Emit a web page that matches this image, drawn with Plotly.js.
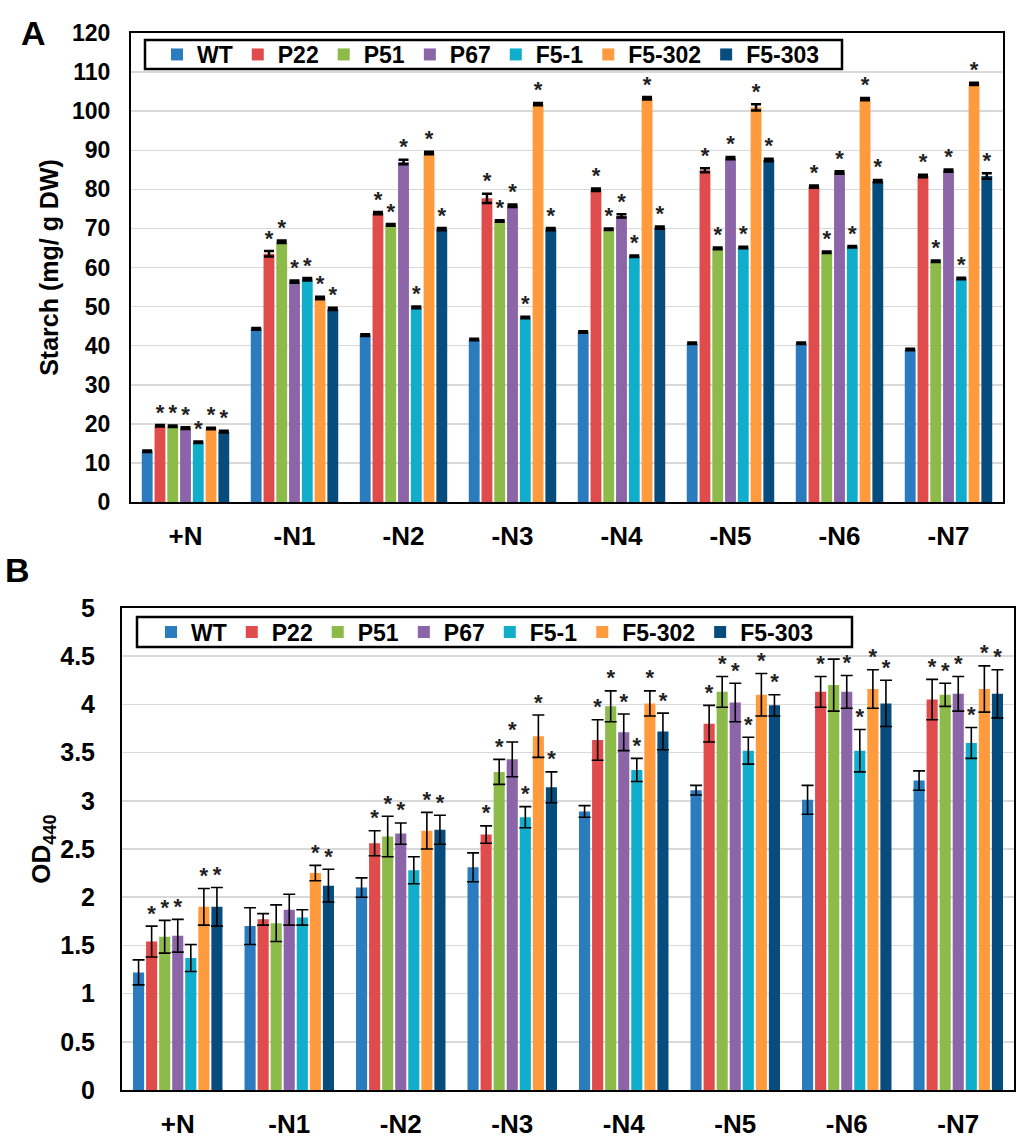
<!DOCTYPE html>
<html>
<head>
<meta charset="utf-8">
<script src="https://cdn.plot.ly/plotly-3.0.1.min.js"></script>
<style>html,body{margin:0;padding:0;background:#fff;}#chart{width:1024px;height:1146px;}</style>
</head>
<body>
<div id="chart"></div>
<script>
// ---- data ----
var categories = ['+N', '-N1', '-N2', '-N3', '-N4', '-N5', '-N6', '-N7'];
var seriesNames = ['WT', 'P22', 'P51', 'P67', 'F5-1', 'F5-302', 'F5-303'];
var seriesColors = ['#2B7BBF', '#E04B4B', '#8CBB4A', '#8C64A8', '#10AECB', '#FF9A3D', '#064C7C'];

// Panel A: starch (mg/ g DW)
var starchWT    = [13.0, 44.3, 42.7, 41.6, 43.5, 40.6, 40.6, 39.0];
var starchP22   = [19.5, 63.5, 73.9, 77.7, 79.9, 84.9, 80.7, 83.4];
var starchP51   = [19.4, 66.6, 70.9, 71.9, 69.8, 64.9, 63.9, 61.6];
var starchP67   = [18.9, 56.4, 87.0, 75.8, 73.2, 88.0, 84.3, 84.8];
var starchF51   = [15.3, 57.0, 49.8, 47.2, 62.9, 65.1, 65.3, 57.2];
var starchF5302 = [18.8, 52.2, 89.3, 101.8, 103.3, 101.0, 103.1, 107.0];
var starchF5303 = [18.0, 49.4, 69.8, 69.8, 70.2, 87.5, 82.1, 83.4];

var starchErrWT    = [0.2, 0.2, 0.2, 0.2, 0.2, 0.2, 0.2, 0.2];
var starchErrP22   = [0.2, 0.7, 0.3, 1.2, 0.3, 0.5, 0.3, 0.3];
var starchErrP51   = [0.2, 0.3, 0.2, 0.2, 0.2, 0.2, 0.2, 0.2];
var starchErrP67   = [0.2, 0.3, 0.6, 0.3, 0.4, 0.3, 0.3, 0.3];
var starchErrF51   = [0.2, 0.3, 0.2, 0.2, 0.2, 0.2, 0.2, 0.2];
var starchErrF5302 = [0.2, 0.3, 0.3, 0.3, 0.3, 0.8, 0.3, 0.3];
var starchErrF5303 = [0.2, 0.3, 0.3, 0.3, 0.3, 0.3, 0.3, 0.7];

var starchSigWT    = [0, 0, 0, 0, 0, 0, 0, 0];
var starchSigP22   = [1, 1, 1, 1, 1, 1, 1, 1];
var starchSigP51   = [1, 1, 1, 1, 1, 1, 1, 1];
var starchSigP67   = [1, 1, 1, 1, 1, 1, 1, 1];
var starchSigF51   = [1, 1, 1, 1, 1, 1, 1, 1];
var starchSigF5302 = [1, 1, 1, 1, 1, 1, 1, 1];
var starchSigF5303 = [1, 1, 1, 1, 1, 1, 1, 1];

// Panel B: OD440
var odWT    = [1.22, 1.70, 2.10, 2.31, 2.89, 3.11, 3.01, 3.21];
var odP22   = [1.54, 1.77, 2.56, 2.65, 3.63, 3.80, 4.13, 4.05];
var odP51   = [1.59, 1.73, 2.63, 3.30, 3.98, 4.13, 4.20, 4.10];
var odP67   = [1.60, 1.87, 2.66, 3.43, 3.71, 4.02, 4.13, 4.11];
var odF51   = [1.37, 1.79, 2.28, 2.83, 3.32, 3.52, 3.52, 3.60];
var odF5302 = [1.90, 2.25, 2.69, 3.67, 4.01, 4.10, 4.16, 4.16];
var odF5303 = [1.90, 2.12, 2.70, 3.14, 3.72, 3.99, 4.01, 4.11];

var odErrWT    = [0.13, 0.19, 0.10, 0.15, 0.06, 0.05, 0.15, 0.10];
var odErrP22   = [0.16, 0.06, 0.13, 0.09, 0.21, 0.19, 0.16, 0.21];
var odErrP51   = [0.17, 0.19, 0.21, 0.13, 0.16, 0.16, 0.27, 0.12];
var odErrP67   = [0.17, 0.16, 0.11, 0.18, 0.19, 0.20, 0.17, 0.18];
var odErrF51   = [0.14, 0.08, 0.14, 0.11, 0.12, 0.14, 0.22, 0.16];
var odErrF5302 = [0.19, 0.08, 0.19, 0.22, 0.13, 0.22, 0.20, 0.24];
var odErrF5303 = [0.20, 0.17, 0.15, 0.16, 0.19, 0.11, 0.24, 0.25];

var odSigWT    = [0, 0, 0, 0, 0, 0, 0, 0];
var odSigP22   = [1, 0, 1, 1, 1, 1, 1, 1];
var odSigP51   = [1, 0, 1, 1, 1, 1, 1, 1];
var odSigP67   = [1, 0, 1, 1, 1, 1, 1, 1];
var odSigF51   = [0, 0, 0, 1, 1, 1, 1, 1];
var odSigF5302 = [1, 1, 1, 1, 1, 1, 1, 1];
var odSigF5303 = [1, 1, 1, 1, 1, 1, 1, 1];

// ---- assemble ----
var starchVals = [starchWT, starchP22, starchP51, starchP67, starchF51, starchF5302, starchF5303];
var starchErrs = [starchErrWT, starchErrP22, starchErrP51, starchErrP67, starchErrF51, starchErrF5302, starchErrF5303];
var starchSigs = [starchSigWT, starchSigP22, starchSigP51, starchSigP67, starchSigF51, starchSigF5302, starchSigF5303];
var odVals = [odWT, odP22, odP51, odP67, odF51, odF5302, odF5303];
var odErrs = [odErrWT, odErrP22, odErrP51, odErrP67, odErrF51, odErrF5302, odErrF5303];
var odSigs = [odSigWT, odSigP22, odSigP51, odSigP67, odSigF51, odSigF5302, odSigF5303];

var FONT = 'Liberation Sans, Arial, sans-serif';
var traces = [];

function addPanel(vals, errs, sigs, xa, ya, legendId, errThick, errWidth) {
  seriesNames.forEach(function (name, i) {
    traces.push({
      type: 'bar', name: name, x: categories, y: vals[i],
      xaxis: xa, yaxis: ya, legend: legendId,
      marker: {color: seriesColors[i], line: {width: 0}},
      error_y: {type: 'data', array: errs[i], visible: true, color: '#000', thickness: errThick, width: errWidth},
      hoverinfo: 'x+y+name'
    });
  });
  seriesNames.forEach(function (name, i) {
    var ys = [], ts = [], xs = [];
    categories.forEach(function (c, k) {
      xs.push(c);
      ys.push(sigs[i][k] ? vals[i][k] + errs[i][k] : null);
      ts.push(sigs[i][k] ? '*' : '');
    });
    traces.push({
      type: 'scatter', mode: 'text', x: xs, y: ys, text: ts,
      textposition: 'top center', cliponaxis: false,
      textfont: {family: FONT, size: 22, color: '#222', weight: 'bold'},
      xaxis: xa, yaxis: ya, showlegend: false, hoverinfo: 'skip'
    });
  });
}

addPanel(starchVals, starchErrs, starchSigs, 'x', 'y', 'legend', 2.5, 5);
addPanel(odVals, odErrs, odSigs, 'x2', 'y2', 'legend2', 1.6, 6);

var axisLine = {showline: true, linecolor: '#000', linewidth: 2, mirror: true, zeroline: false, ticks: '', automargin: false, fixedrange: true};

var layout = {
  width: 1024, height: 1146,
  margin: {l: 0, r: 0, t: 0, b: 0},
  paper_bgcolor: '#fff', plot_bgcolor: '#fff',
  font: {family: FONT, color: '#000'},
  barmode: 'group', bargap: 0.18, bargroupgap: 0.15,
  scattermode: 'group', scattergap: 0.18,
  showlegend: true,
  xaxis: Object.assign({}, axisLine, {
    domain: [131 / 1024, 1003 / 1024], anchor: 'y', type: 'category',
    showgrid: false, ticklabelstandoff: 10,
    tickfont: {family: FONT, size: 26, weight: 'bold'}
  }),
  yaxis: Object.assign({}, axisLine, {
    domain: [1 - 502 / 1146, 1 - 33 / 1146], anchor: 'x',
    range: [0, 120], dtick: 10, tick0: 0,
    showgrid: true, gridcolor: '#D9D9D9', gridwidth: 1.5,
    ticklabelstandoff: 14,
    tickfont: {family: FONT, size: 23, weight: 'bold'},
    title: {text: 'Starch (mg/ g DW)', standoff: 6, font: {family: FONT, size: 25, weight: 'bold'}}
  }),
  xaxis2: Object.assign({}, axisLine, {
    domain: [122 / 1024, 1014 / 1024], anchor: 'y2', type: 'category',
    showgrid: false, ticklabelstandoff: 10,
    tickfont: {family: FONT, size: 26, weight: 'bold'}
  }),
  yaxis2: Object.assign({}, axisLine, {
    domain: [1 - 1090 / 1146, 1 - 608 / 1146], anchor: 'x2',
    range: [0, 5], dtick: 0.5, tick0: 0,
    showgrid: true, gridcolor: '#D9D9D9', gridwidth: 1.5,
    ticklabelstandoff: 20,
    tickfont: {family: FONT, size: 25, weight: 'bold'},
    title: {text: 'OD<sub>440</sub>', standoff: 2, font: {family: FONT, size: 26, weight: 'bold'}}
  }),
  legend: {
    orientation: 'h', x: 157 / 1024, y: 1 - 54.5 / 1146, xanchor: 'left', yanchor: 'middle',
    bgcolor: 'rgba(0,0,0,0)', borderwidth: 0,
    font: {family: FONT, size: 23, weight: 'bold'}, traceorder: 'normal'
  },
  legend2: {
    orientation: 'h', x: 151 / 1024, y: 1 - 632 / 1146, xanchor: 'left', yanchor: 'middle',
    bgcolor: 'rgba(0,0,0,0)', borderwidth: 0,
    font: {family: FONT, size: 23, weight: 'bold'}, traceorder: 'normal'
  },
  shapes: [
    {type: 'rect', xref: 'paper', yref: 'paper', layer: 'above',
     x0: 145 / 1024, x1: 842 / 1024, y0: 1 - 69 / 1146, y1: 1 - 40 / 1146,
     fillcolor: '#fff', line: {color: '#000', width: 2.5}},
    {type: 'rect', xref: 'paper', yref: 'paper', layer: 'above',
     x0: 137 / 1024, x1: 852 / 1024, y0: 1 - 647 / 1146, y1: 1 - 617 / 1146,
     fillcolor: '#fff', line: {color: '#000', width: 2.5}}
  ],
  annotations: [
    {text: 'A', x: 33 / 1024, y: 1 - 33 / 1146, xref: 'paper', yref: 'paper', showarrow: false,
     xanchor: 'center', yanchor: 'middle', font: {family: FONT, size: 34, weight: 'bold'}},
    {text: 'B', x: 17 / 1024, y: 1 - 570 / 1146, xref: 'paper', yref: 'paper', showarrow: false,
     xanchor: 'center', yanchor: 'middle', font: {family: FONT, size: 34, weight: 'bold'}}
  ]
};

Plotly.newPlot('chart', traces, layout, {displayModeBar: false, staticPlot: true});
</script>
</body>
</html>
